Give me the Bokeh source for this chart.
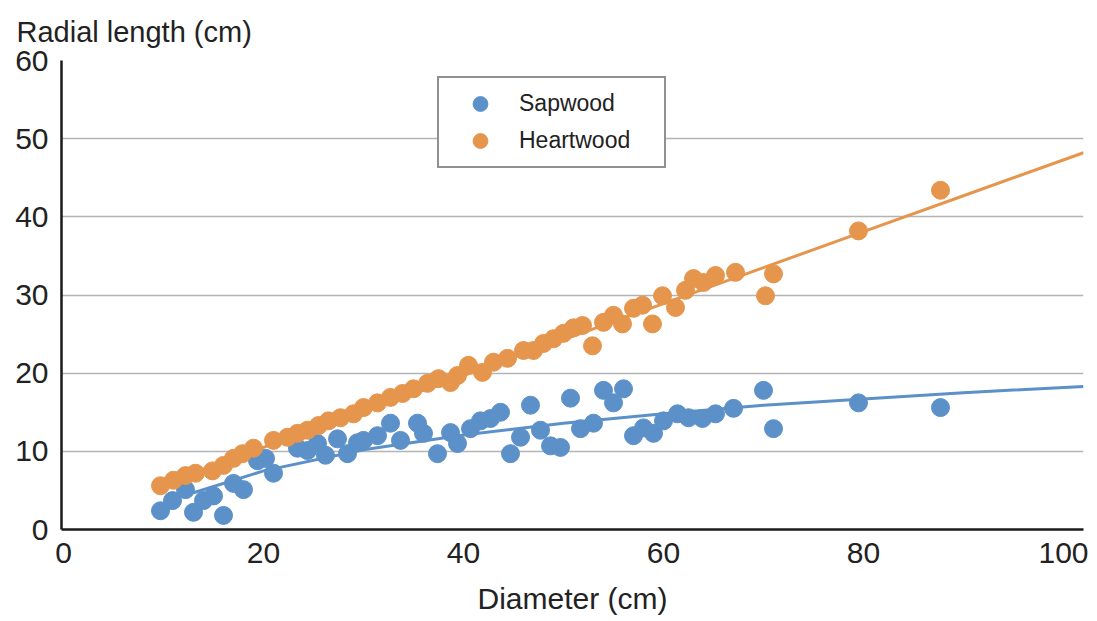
from bokeh.plotting import figure
from bokeh.models import Range1d, Legend, LegendItem, FixedTicker
from bokeh.embed import file_html
from bokeh.resources import INLINE

# ---- data ----
sap_x = [9.7, 10.9, 12.2, 13.0, 14.0, 15.0, 16.0, 17.0, 18.0, 19.4, 20.2, 21.0,
         23.4, 24.4, 25.4, 26.2, 27.4, 28.4, 29.4, 30.0, 31.4, 32.7, 33.7, 35.4,
         36.0, 37.4, 38.7, 39.4, 40.7, 41.7, 42.7, 43.7, 44.7, 45.7, 46.7, 47.7,
         48.7, 49.7, 50.7, 51.7, 53.0, 54.0, 55.0, 56.0, 57.0, 58.0, 59.0, 60.0,
         61.4, 62.5, 63.9, 65.2, 67.0, 70.0, 71.0, 79.5, 87.7]
sap_y = [2.4, 3.7, 5.1, 2.2, 3.7, 4.3, 1.8, 5.9, 5.1, 8.8, 9.1, 7.2,
         10.4, 10.1, 11.0, 9.5, 11.6, 9.7, 11.1, 11.4, 12.0, 13.6, 11.4, 13.6,
         12.3, 9.7, 12.4, 11.0, 12.9, 13.9, 14.2, 15.0, 9.7, 11.8, 15.9, 12.7,
         10.7, 10.5, 16.8, 12.9, 13.6, 17.8, 16.2, 18.0, 12.0, 13.0, 12.3, 13.9,
         14.8, 14.3, 14.2, 14.8, 15.5, 17.8, 12.9, 16.2, 15.6]

heart_x = [9.7, 11.0, 12.2, 13.2, 14.9, 16.0, 17.0, 17.9, 19.0, 21.0, 22.4, 23.4,
           24.4, 25.5, 26.5, 27.7, 29.0, 30.0, 31.4, 32.7, 33.9, 35.0, 36.4, 37.5,
           38.7, 39.4, 40.5, 41.9, 43.0, 44.4, 46.0, 47.0, 48.0, 49.0, 50.0, 51.0,
           51.9, 52.9, 54.0, 55.0, 55.9, 57.0, 57.9, 58.9, 59.9, 61.2, 62.2, 63.0,
           64.0, 65.2, 67.2, 70.2, 71.0, 79.5, 87.7]
heart_y = [5.6, 6.3, 6.9, 7.2, 7.5, 8.2, 9.1, 9.7, 10.4, 11.4, 11.8, 12.3,
           12.7, 13.3, 13.9, 14.3, 14.8, 15.6, 16.2, 16.9, 17.4, 18.0, 18.7, 19.3,
           18.8, 19.7, 21.0, 20.1, 21.4, 21.9, 22.9, 22.9, 23.8, 24.4, 25.1, 25.8,
           26.1, 23.5, 26.5, 27.4, 26.3, 28.3, 28.7, 26.3, 29.9, 28.4, 30.6, 32.1,
           31.6, 32.5, 32.9, 29.9, 32.7, 38.2, 43.4]

sap_trend_x = [13, 20, 30, 40, 50, 60, 70, 80, 90, 102]
sap_trend_y = [4.7, 7.5, 10.2, 12.1, 13.6, 14.8, 15.9, 16.7, 17.5, 18.3]
heart_trend_x = [12, 20, 30, 40, 50, 60, 70, 80, 90, 102]
heart_trend_y = [6.8, 10.5, 15.1, 19.7, 24.3, 28.9, 33.5, 38.1, 42.7, 48.2]

x_ticks = [0, 20, 40, 60, 80, 100]
y_ticks = [0, 10, 20, 30, 40, 50, 60]

BLUE = "#5b90c9"
ORANGE = "#e6954c"
FONT = "Liberation Sans"
TXT = "#222222"

p = figure(width=1092, height=621, output_backend="svg", toolbar_location=None,
           x_range=Range1d(-0.2, 102), y_range=Range1d(0, 60),
           min_border_left=61, min_border_right=9, min_border_top=60,
           min_border_bottom=92)
p.outline_line_color = None
p.background_fill_color = "white"
p.border_fill_color = "white"

# y-axis title shown as a horizontal title at the top-left
p.title.text = "Radial length (cm)"
p.title.text_font = FONT
p.title.text_font_size = "29px"
p.title.text_font_style = "normal"
p.title.text_color = TXT
p.title.align = "left"
p.title.vertical_align = "bottom"
p.title.offset = -45
p.title.standoff = 25

# axes
for ax in (p.xaxis[0], p.yaxis[0]):
    ax.axis_line_color = "#1a1a1a"
    ax.axis_line_width = 2.5
    ax.major_tick_line_color = None
    ax.minor_tick_line_color = None
    ax.major_tick_out = 0
    ax.major_tick_in = 0
    ax.minor_tick_out = 0
    ax.major_label_text_font = FONT
    ax.major_label_text_font_size = "30px"
    ax.major_label_text_color = TXT
p.xaxis.ticker = FixedTicker(ticks=x_ticks)
p.yaxis.ticker = FixedTicker(ticks=y_ticks)
p.xaxis.major_label_standoff = 13
p.yaxis.major_label_standoff = 13
p.xaxis.axis_label = "Diameter (cm)"
p.xaxis.axis_label_text_font = FONT
p.xaxis.axis_label_text_font_size = "30px"
p.xaxis.axis_label_text_font_style = "normal"
p.xaxis.axis_label_text_color = TXT
p.xaxis.axis_label_standoff = 16

p.xgrid.grid_line_color = None
p.ygrid.ticker = FixedTicker(ticks=y_ticks)
p.ygrid.grid_line_color = "#b4b4b4"
p.ygrid.grid_line_width = 1.5

# trend lines
p.line(sap_trend_x, sap_trend_y, line_color=BLUE, line_width=3)
p.line(heart_trend_x, heart_trend_y, line_color=ORANGE, line_width=3)

# points
r_sap = p.scatter(sap_x, sap_y, size=18, fill_color=BLUE, line_color=BLUE)
r_heart = p.scatter(heart_x, heart_y, size=18, fill_color=ORANGE, line_color=ORANGE)

legend = Legend(items=[LegendItem(label="Sapwood", renderers=[r_sap]),
                       LegendItem(label="Heartwood", renderers=[r_heart])],
                location=(376, 361), orientation="vertical")
legend.margin = 0
legend.padding = 7
legend.spacing = 0
legend.glyph_width = 68
legend.glyph_height = 37
legend.label_standoff = 5
legend.label_width = 138
legend.label_height = 37
legend.label_text_font = FONT
legend.label_text_font_size = "23px"
legend.label_text_color = TXT
legend.border_line_color = "#222222"
legend.border_line_width = 2
legend.background_fill_color = "white"
legend.background_fill_alpha = 1.0
p.add_layout(legend)

open("out.html", "w").write(file_html(p, INLINE))
